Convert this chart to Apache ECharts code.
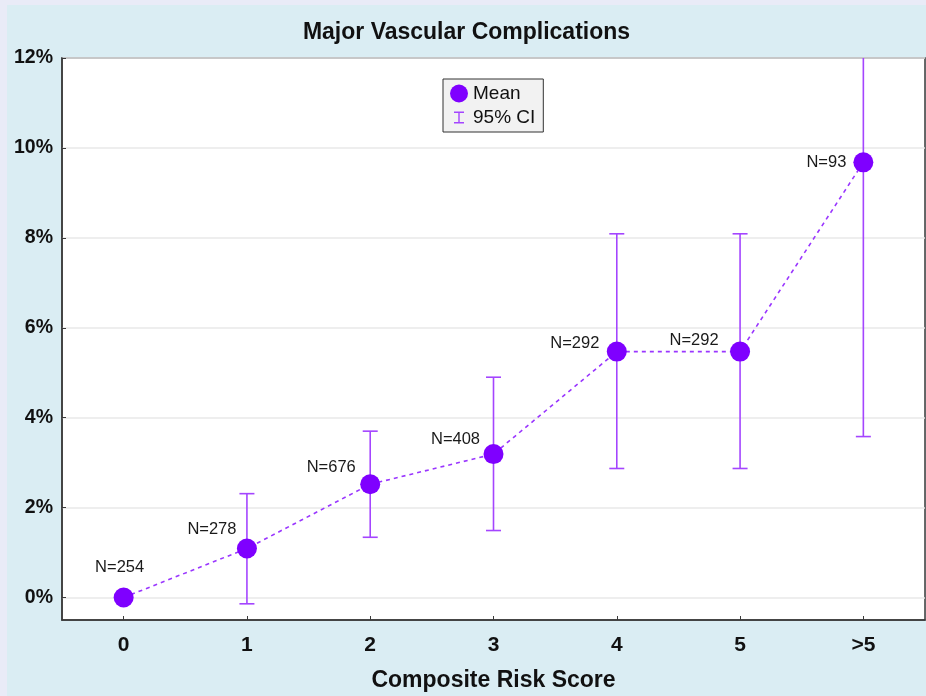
<!DOCTYPE html>
<html>
<head>
<meta charset="utf-8">
<script src="https://cdn.jsdelivr.net/npm/echarts@6/dist/echarts.min.js"></script>
<style>
  html, body { margin: 0; padding: 0; background: #e9ebf7; width: 926px; height: 696px; overflow: hidden; }
  #chart { position: absolute; left: 7px; top: 5px; width: 919px; height: 691px; }
</style>
</head>
<body>
<div id="chart"></div>
<script>
// ---- data ----
const categories = ['0', '1', '2', '3', '4', '5', '>5'];
const meanPct = [0, 1.09, 2.52, 3.19, 5.47, 5.47, 9.68];
const ciLower = [null, -0.14, 1.34, 1.49, 2.87, 2.87, 3.58];
const ciUpper = [null, 2.31, 3.70, 4.90, 8.09, 8.09, 15.8];
const sampleN = [254, 278, 676, 408, 292, 292, 93];
const yTickValues = [0, 2, 4, 6, 8, 10, 12];

// ---- build ----
const labelNudge = [[-4, -7], [-35, 4], [-39, 7], [-38, 9], [-42, 15], [-46, 12], [-37, 24]];
const meanData = meanPct.map((v, i) => ({
  value: v,
  label: { offset: labelNudge[i] }
}));
const ciData = categories.map((c, i) => [i, ciLower[i], ciUpper[i]]);

const FONT = '"Liberation Sans", Arial, sans-serif';
const chart = echarts.init(document.getElementById('chart'), null, { renderer: 'canvas' });

const option = {
  backgroundColor: '#daedf3',
  animation: false,
  title: {
    text: 'Major Vascular Complications',
    left: 'center',
    top: 11,
    textStyle: { fontFamily: FONT, fontWeight: 'bold', fontSize: 23, color: '#111' }
  },
  legend: {
    orient: 'vertical',
    left: 436,
    top: 74,
    itemWidth: 18,
    itemHeight: 18,
    itemGap: 5,
    padding: [5, 8, 5, 7],
    backgroundColor: '#f2f2f2',
    borderColor: '#333',
    borderWidth: 1,
    borderRadius: 0,
    textStyle: { fontFamily: FONT, fontSize: 19, color: '#111' },
    data: [
      { name: 'Mean', icon: 'circle' },
      { name: '95% CI', icon: 'path://M0,0L0,0M18,18L18,18M4,3H14V4.4H9.7V13.6H14V15H4V13.6H8.3V4.4H4Z' }
    ]
  },
  grid: {
    left: 55, right: 1, top: 53, bottom: 76,
    outerBoundsMode: 'none',
    show: true, backgroundColor: '#ffffff', borderColor: '#3a3a3a', borderWidth: 1.5,
    containLabel: false
  },
  xAxis: {
    type: 'category',
    data: categories,
    boundaryGap: true,
    axisLine: { show: true, onZero: false, lineStyle: { color: '#3a3a3a', width: 1.5 } },
    axisTick: { show: true, inside: true, alignWithLabel: true, length: 4, lineStyle: { color: '#3a3a3a' } },
    axisLabel: { margin: 15, fontFamily: FONT, fontWeight: 'bold', fontSize: 21, color: '#111' },
    splitLine: { show: false },
    name: 'Composite Risk Score',
    nameLocation: 'middle',
    nameGap: 49,
    nameTextStyle: { fontFamily: FONT, fontWeight: 'bold', fontSize: 23, color: '#111' }
  },
  yAxis: {
    type: 'value',
    min: -0.5,
    max: 12,
    axisLine: { show: true, lineStyle: { color: '#3a3a3a', width: 1.5 } },
    axisTick: { show: true, inside: true, length: 4, lineStyle: { color: '#3a3a3a' }, customValues: yTickValues },
    axisLabel: {
      margin: 9, fontFamily: FONT, fontWeight: 'bold', fontSize: 19.5, color: '#111',
      formatter: '{value}%', customValues: yTickValues
    },
    splitLine: { show: true, lineStyle: { color: '#e9e9e9', width: 1.5 } }
  },
  series: [
    {
      name: '95% CI',
      type: 'custom',
      itemStyle: { color: '#a445ff' },
      data: ciData,
      z: 2,
      renderItem: function (params, api) {
        const lo = api.value(1), hi = api.value(2);
        if (lo === null || hi === null || isNaN(lo) || isNaN(hi)) return;
        const x = api.value(0);
        const cs = params.coordSys;
        const pLo = api.coord([x, lo]);
        const pHi = api.coord([x, hi]);
        const top = Math.max(pHi[1], cs.y);
        const bot = Math.min(pLo[1], cs.y + cs.height);
        const half = 7.5;
        const style = { stroke: '#a445ff', lineWidth: 1.6, fill: null };
        const children = [
          { type: 'line', shape: { x1: pLo[0], y1: top, x2: pLo[0], y2: bot }, style: style }
        ];
        if (pLo[1] <= cs.y + cs.height) children.push({ type: 'line', shape: { x1: pLo[0] - half, y1: pLo[1], x2: pLo[0] + half, y2: pLo[1] }, style: style });
        if (pHi[1] >= cs.y) children.push({ type: 'line', shape: { x1: pHi[0] - half, y1: pHi[1], x2: pHi[0] + half, y2: pHi[1] }, style: style });
        return { type: 'group', children: children };
      }
    },
    {
      name: 'Mean',
      type: 'line',
      data: meanData,
      z: 3,
      symbol: 'circle',
      symbolSize: 20,
      itemStyle: { color: '#7f00ff' },
      lineStyle: { color: '#9a36ff', width: 1.6, type: [4, 4] },
      label: {
        show: true,
        position: 'top',
        distance: 5,
        fontFamily: FONT,
        fontSize: 16.5,
        color: '#1a1a1a',
        formatter: function (p) { return 'N=' + sampleN[p.dataIndex]; }
      }
    }
  ]
};
chart.setOption(option);
</script>
</body>
</html>
